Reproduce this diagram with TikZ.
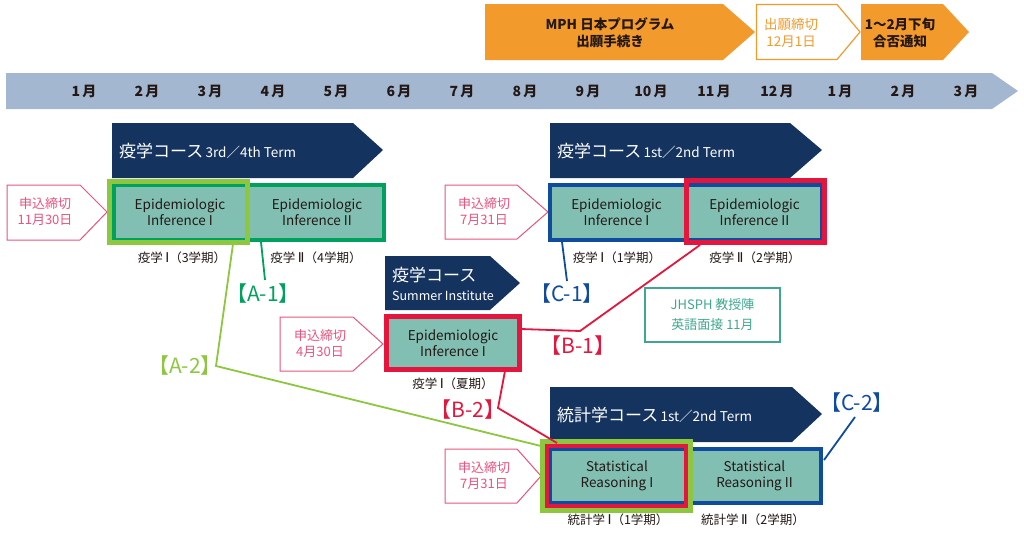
\documentclass[tikz,border=0pt]{standalone}
\usepackage{fontspec}
\setmainfont{Noto Sans CJK JP}
\newfontfamily\romfont{DejaVu Sans}
\newcommand\rI{\hspace{2.5pt}{\romfont\fontsize{13.5}{14}\selectfont Ⅰ}}
\newcommand\rII{\hspace{2.5pt}{\romfont\fontsize{13.5}{14}\selectfont Ⅱ}}
\usetikzlibrary{calc}
\definecolor{orangeC}{HTML}{F39A2D}
\definecolor{tlC}{HTML}{A4B7D0}
\definecolor{navyC}{HTML}{15335F}
\definecolor{tealC}{HTML}{82BFB3}
\definecolor{dgreenC}{HTML}{00A15C}
\definecolor{limeC}{HTML}{8DC63F}
\definecolor{redC}{HTML}{E4163D}
\definecolor{blueC}{HTML}{0F4C9E}
\definecolor{pinkC}{HTML}{E9537D}
\definecolor{jhC}{HTML}{3FA78F}
\definecolor{txtC}{HTML}{231815}
\tikzset{
  cell/.style={fill=tealC, draw=none, inner sep=0pt, outer sep=0pt, align=center, text=txtC,
    font=\fontsize{13.5}{16}\selectfont},
  frame/.style={draw, fill=none, inner sep=0pt, outer sep=0pt},
  sublbl/.style={font=\fontsize{12.5}{14}\selectfont, text=txtC},
  dltext/.style={font=\fontsize{13}{16}\selectfont, text=pinkC, align=center},
  dlshape/.style={draw=pinkC, line width=1pt, fill=white},
  tagtxt/.style={font=\fontsize{21}{22}\selectfont, inner sep=0pt},
  month/.style={font=\bfseries\fontsize{14}{16}\selectfont, text=txtC},
  navytext/.style={text=white, anchor=west, inner sep=0pt},
  conn/.style={line width=1.8pt}
}
\begin{document}
\begin{tikzpicture}[x=1pt,y=-1pt]
\useasboundingbox (0,0) rectangle (1024,533);

% ---- top orange arrows
\fill[orangeC] (485,4) -- (723,4) -- (755,32) -- (723,60) -- (485,60) -- cycle;
\node[font=\bfseries\fontsize{13.5}{17}\selectfont, text=txtC, align=center] (mph) at (610,33) {MPH 日本プログラム\\出願手続き};
\draw[orangeC, line width=1.2pt, fill=white] (756.5,4.5) -- (837,4.5) -- (860,32) -- (837,59.5) -- (756.5,59.5) -- cycle;
\node[font=\fontsize{13.5}{17}\selectfont, text=orangeC, align=center] (dead) at (791,33) {出願締切\\12月1日};
\fill[orangeC] (861,4) -- (943,4) -- (969,32) -- (943,60) -- (861,60) -- cycle;
\node[font=\bfseries\fontsize{13.5}{17}\selectfont, text=txtC, align=center] (notice) at (900,33) {1～2月下旬\\合否通知};

% ---- timeline
\fill[tlC] (6,73) -- (992,73) -- (1018,91) -- (992,109) -- (6,109) -- cycle;
\foreach \m [count=\i from 0] in {1,2,3,4,5,6,7,8,9,10,11,12,1,2,3}{
  \node[month] (m\i) at (84+63*\i,91) {\m\,月};
}

% ---- navy course arrows
\fill[navyC] (112,123) -- (353,123) -- (383,150) -- (353,178) -- (112,178) -- cycle;
\node[navytext] (n1) at (119,151) {{\fontsize{17}{20}\selectfont 疫学コース} {\fontsize{13.5}{16}\selectfont 3rd／4th Term}};
\fill[navyC] (550,123) -- (790,123) -- (822,150) -- (790,178) -- (550,178) -- cycle;
\node[navytext] (n2) at (557,151) {{\fontsize{17}{20}\selectfont 疫学コース} {\fontsize{13.5}{16}\selectfont 1st／2nd Term}};
\fill[navyC] (385,256) -- (490,256) -- (520,283) -- (490,310) -- (385,310) -- cycle;
\node[navytext, align=left, font=\fontsize{12.5}{19}\selectfont] (ns) at (392,284) {{\fontsize{17}{20}\selectfont 疫学コース}\\{\fontsize{12.5}{15}\selectfont Summer Institute}};
\fill[navyC] (550,387) -- (792,387) -- (822,414) -- (792,442) -- (550,442) -- cycle;
\node[navytext] (n3) at (557,415) {{\fontsize{17}{20}\selectfont 統計学コース} {\fontsize{13.5}{16}\selectfont 1st／2nd Term}};

% ---- deadline pentagons
\draw[dlshape] (7,185) -- (80,185) -- (107,212) -- (80,240) -- (7,240) -- cycle;
\node[dltext] (dlA) at (45,212) {申込締切\\11月30日};
\draw[dlshape] (445,185) -- (517,185) -- (548,212) -- (517,239) -- (445,239) -- cycle;
\node[dltext] (dlC) at (484,212) {申込締切\\7月31日};
\draw[dlshape] (280,317) -- (353,317) -- (383,344) -- (353,371) -- (280,371) -- cycle;
\node[dltext] (dlS) at (320,344) {申込締切\\4月30日};
\draw[dlshape] (445,449) -- (517,449) -- (541,476) -- (517,503) -- (445,503) -- cycle;
\node[dltext] (dlR) at (484,476) {申込締切\\7月31日};

% ---- course cells, 3rd/4th term
\node[cell, minimum width=136, minimum height=59] (a1) at (180,212.5) {Epidemiologic\\Inference I};
\node[cell, minimum width=138, minimum height=59] (a2) at (317,212.5) {Epidemiologic\\Inference II};
\node[frame, draw=dgreenC, line width=4pt, minimum width=270, minimum height=55] (aframe) at (249,212.5) {};
\node[frame, draw=limeC, line width=5pt, minimum width=138, minimum height=61] (alime) at (178.5,212) {};
\node[sublbl] (a1l) at (182,258) {疫学\rI（3学期）};
\node[sublbl] (a2l) at (316,258) {疫学\rII（4学期）};

% ---- course cells, 1st/2nd term
\node[cell, minimum width=137, minimum height=59] (c1) at (616.5,212.5) {Epidemiologic\\Inference I};
\node[cell, minimum width=139, minimum height=59] (c2) at (754.5,212.5) {Epidemiologic\\Inference II};
\node[frame, draw=blueC, line width=4pt, minimum width=272, minimum height=55] (cframe) at (686,212.5) {};
\node[frame, draw=redC, line width=5pt, minimum width=138, minimum height=62] (cred) at (755.5,211.5) {};
\node[sublbl] (c1l) at (617,258) {疫学\rI（1学期）};
\node[sublbl] (c2l) at (755,258) {疫学\rII（2学期）};

% ---- summer
\node[cell, minimum width=138, minimum height=58] (s1) at (453,343) {Epidemiologic\\Inference I};
\node[frame, draw=redC, line width=5pt, minimum width=133, minimum height=53] (sred) at (453,343) {};
\node[sublbl] (s1l) at (453,384) {疫学\rI（夏期）};

% ---- statistics
\node[cell, minimum width=138, minimum height=58] (r1) at (617,476) {Statistical\\Reasoning I};
\node[cell, minimum width=137, minimum height=58] (r2) at (754.5,476) {Statistical\\Reasoning II};
\node[frame, draw=blueC, line width=4pt, minimum width=271, minimum height=54] (rframe) at (685.5,476) {};
\node[frame, draw=redC, line width=4pt, minimum width=139.5, minimum height=60] (rred) at (616.25,475.5) {};
\node[frame, draw=limeC, line width=5pt, minimum width=148, minimum height=69] (rlime) at (616,475.5) {};
\node[sublbl] (r1l) at (618,520) {統計学\rI（1学期）};
\node[sublbl] (r2l) at (753,520) {統計学\rII（2学期）};

% ---- JHSPH box
\node[draw=jhC, line width=1.2pt, minimum width=135, minimum height=54, inner sep=0pt,
      text=jhC, align=center, font=\fontsize{13}{20}\selectfont] (jh) at (712.5,315) {JHSPH 教授陣\\英語面接 11月};

% ---- tags
\node[tagtxt, text=dgreenC] (tA1) at (263,294) {【A-1】};
\node[tagtxt, text=limeC] (tA2) at (185,366) {【A-2】};
\node[tagtxt, text=blueC] (tC1) at (567,294) {【C-1】};
\node[tagtxt, text=redC] (tB1) at (578,346) {【B-1】};
\node[tagtxt, text=redC] (tB2) at (468,410) {【B-2】};
\node[tagtxt, text=blueC] (tC2) at (857,403) {【C-2】};

% ---- connector points
\coordinate (pA1s) at (261,242);
\coordinate (pA1e) at (265,280);
\coordinate (pA2s) at (233,244);
\coordinate (pA2b) at (216,366);
\coordinate (pA2e) at (541,446);
\coordinate (pB1s) at (521,329);
\coordinate (pB1b) at (580,331);
\coordinate (pB1e) at (700,245);
\coordinate (pB2s) at (505,371);
\coordinate (pB2b) at (498,408);
\coordinate (pB2e) at (557,443);
\coordinate (pC1s) at (562,242);
\coordinate (pC1e) at (567,281);
\coordinate (pC2s) at (824,460);
\coordinate (pC2e) at (855,417);

\draw[conn, dgreenC] (pA1s) -- (pA1e);
\draw[conn, limeC] (pA2s) -- (pA2b) -- (pA2e);
\draw[conn, redC] (pB1s) -- (pB1b) -- (pB1e);
\draw[conn, redC] (pB2s) -- (pB2b) -- (pB2e);
\draw[conn, blueC] (pC1s) -- (pC1e);
\draw[conn, blueC] (pC2s) -- (pC2e);
\end{tikzpicture}
\end{document}
